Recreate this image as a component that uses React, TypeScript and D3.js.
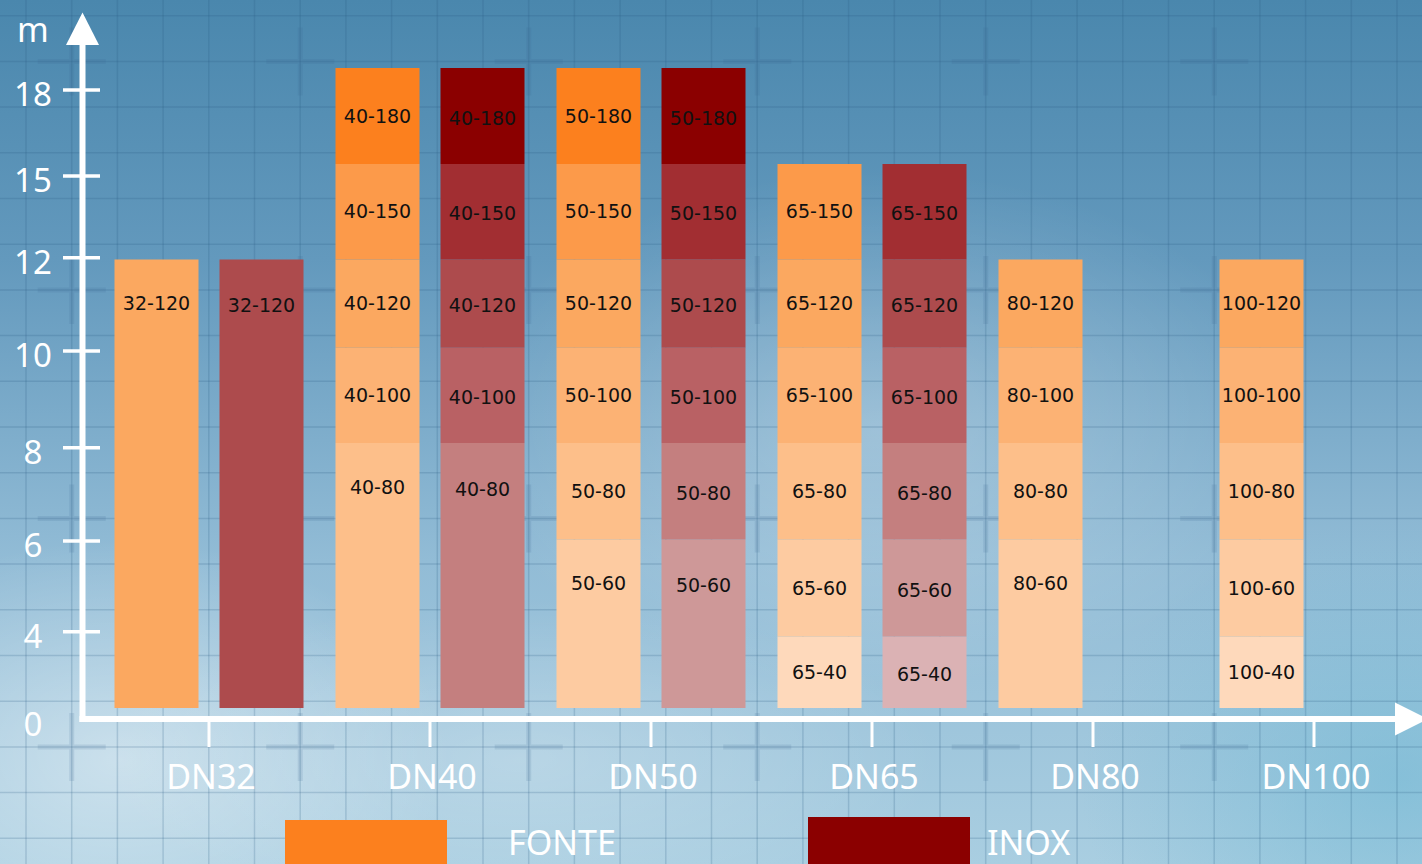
import React, { useEffect, useRef } from "react";
import * as d3 from "d3";

const width = 1422;
const height = 864;

const categories = ["DN32", "DN40", "DN50", "DN65", "DN80", "DN100"];
const dnSizes = [32, 40, 50, 65, 80, 100];
const materials = ["FONTE", "INOX"];

// pump models per size, from bottom of the stack to the top (model / 10 = head in m)
const fonteModels = [
  [120],
  [80, 100, 120, 150, 180],
  [60, 80, 100, 120, 150, 180],
  [40, 60, 80, 100, 120, 150],
  [60, 80, 100, 120],
  [40, 60, 80, 100, 120],
];
const inoxModels = [
  [120],
  [80, 100, 120, 150, 180],
  [60, 80, 100, 120, 150, 180],
  [40, 60, 80, 100, 120, 150],
  [],
  [],
];

const yTicks = [0, 4, 6, 8, 10, 12, 15, 18];
const modelKeys = [40, 60, 80, 100, 120, 150, 180];
const fonteColors = ["#FED9BB", "#FDCBA1", "#FDBF8A", "#FCB274", "#FBA860", "#FC9A4A", "#FC801E"];
const inoxColors = ["#DBB2B4", "#CE9898", "#C47F7F", "#B96164", "#AD4B4D", "#A22E32", "#8B0000"];

export default function App() {
  const chartRef = useRef<HTMLDivElement>(null);

  useEffect(() => {
    document.body.style.margin = "0";
    document.body.style.overflow = "hidden";
    drawChart();
  }, []);

  const drawChart = () => {
    const root = d3.select(chartRef.current);
    root.selectAll("*").remove();

    const svg = root
      .append("svg")
      .attr("width", width)
      .attr("height", height)
      .attr("viewBox", [0, 0, width, height])
      .style("display", "block");

    // ---- background: sky gradient + clouds + blueprint grid
    const defs = svg.append("defs");
    const sky = defs
      .append("linearGradient")
      .attr("id", "sky")
      .attr("x1", 0)
      .attr("y1", 0)
      .attr("x2", 0)
      .attr("y2", 1);
    sky.append("stop").attr("offset", 0).attr("stop-color", "#4A87AD");
    sky.append("stop").attr("offset", 0.3).attr("stop-color", "#6399BD");
    sky.append("stop").attr("offset", 0.65).attr("stop-color", "#92BCD6");
    sky.append("stop").attr("offset", 1).attr("stop-color", "#A9CEE1");

    const cloud = (id: string, color: string, op: number) => {
      const g = defs.append("radialGradient").attr("id", id);
      g.append("stop").attr("offset", 0).attr("stop-color", color).attr("stop-opacity", op);
      g.append("stop").attr("offset", 1).attr("stop-color", color).attr("stop-opacity", 0);
    };
    cloud("cloud1", "#FFFFFF", 0.45);
    cloud("cloud2", "#FFFFFF", 0.25);
    cloud("cyan", "#6FB8D4", 0.55);

    svg.append("rect").attr("width", width).attr("height", height).attr("fill", "url(#sky)");
    svg.append("ellipse").attr("cx", 120).attr("cy", 760).attr("rx", 330).attr("ry", 220).attr("fill", "url(#cloud1)");
    svg.append("ellipse").attr("cx", 880).attr("cy", 430).attr("rx", 420).attr("ry", 260).attr("fill", "url(#cloud2)");
    svg.append("ellipse").attr("cx", 520).attr("cy", 760).attr("rx", 420).attr("ry", 160).attr("fill", "url(#cloud2)");
    svg.append("ellipse").attr("cx", 1400).attr("cy", 780).attr("rx", 320).attr("ry", 260).attr("fill", "url(#cyan)");

    const cell = 45.7;
    const grid = svg.append("g").attr("stroke", "rgba(40,90,130,0.2)").attr("stroke-width", 1.5);
    grid
      .selectAll("line.v")
      .data(d3.range(26, width, cell))
      .join("line")
      .attr("x1", (d) => d)
      .attr("x2", (d) => d)
      .attr("y1", 0)
      .attr("y2", height);
    grid
      .selectAll("line.h")
      .data(d3.range(15.7, height, cell))
      .join("line")
      .attr("class", "h")
      .attr("x1", 0)
      .attr("x2", width)
      .attr("y1", (d) => d)
      .attr("y2", (d) => d);

    const crossPts = d3.cross(d3.range(26 + cell, width, cell * 5), d3.range(15.7 + cell, height, cell * 5));
    const crosses = svg.append("g").attr("stroke", "rgba(55,100,140,0.14)").attr("stroke-width", 5);
    crosses
      .selectAll("path")
      .data(crossPts)
      .join("path")
      .attr("d", ([cx, cy]) => `M${cx - 34},${cy}H${cx + 34}M${cx},${cy - 34}V${cy + 34}`);

    // ---- scales
    const x = d3.scalePoint().domain(categories).range([209, 1314]);
    const xm = d3.scaleBand().domain(materials).range([-94.5, 94.5]).paddingInner(0.2);
    // axis ticks are evenly spaced, not proportional
    const yAxis = d3.scaleLinear().domain(yTicks).range([720, 631.7, 541, 447.7, 351, 257.7, 176, 90]);
    const yBar = d3.scaleLinear().domain(yTicks).range([708, 636.5, 539.5, 443, 347.7, 259.5, 164, 68]);
    const fonteColor = d3.scaleOrdinal<number, string>().domain(modelKeys).range(fonteColors);
    const inoxColor = d3.scaleOrdinal<number, string>().domain(modelKeys).range(inoxColors);

    type Seg = { cat: string; mat: string; model: number; y0: number; y1: number; label: string };
    const segs: Seg[] = [];
    categories.forEach((cat, i) => {
      [fonteModels[i], inoxModels[i]].forEach((models, mi) => {
        let prev = 0;
        models.forEach((model) => {
          const top = model / 10;
          segs.push({ cat, mat: materials[mi], model, y0: prev, y1: top, label: `${dnSizes[i]}-${model}` });
          prev = top;
        });
      });
    });

    const bars = svg.append("g");
    bars
      .selectAll("rect")
      .data(segs)
      .join("rect")
      .attr("x", (d) => x(d.cat)! + xm(d.mat)!)
      .attr("width", xm.bandwidth())
      .attr("y", (d) => yBar(d.y1))
      .attr("height", (d) => yBar(d.y0) - yBar(d.y1))
      .attr("fill", (d) => (d.mat === "FONTE" ? fonteColor(d.model) : inoxColor(d.model)));

    // label centred in the segment, or near the top of tall ones
    const labelY = (d: Seg) => {
      const top = yBar(d.y1);
      const h = yBar(d.y0) - top;
      return (h > 110 ? top + 44 : top + h / 2) + (d.mat === "INOX" ? 2 : 0);
    };
    bars
      .selectAll("text")
      .data(segs)
      .join("text")
      .attr("x", (d) => x(d.cat)! + xm(d.mat)! + xm.bandwidth() / 2)
      .attr("y", labelY)
      .attr("dy", "0.35em")
      .attr("text-anchor", "middle")
      .attr("font-family", "DejaVu Sans")
      .attr("font-size", 19)
      .attr("fill", "#111")
      .text((d) => d.label);

    // ---- axes
    const axis = svg.append("g").attr("fill", "#fff").attr("stroke", "#fff");
    const x0 = 82.5;
    const yBase = 719;
    axis.append("line").attr("x1", x0).attr("x2", x0).attr("y1", yBase + 3).attr("y2", 44).attr("stroke-width", 6);
    axis
      .append("path")
      .attr("stroke", "none")
      .attr("d", `M${x0},12.5L${x0 + 16.5},45L${x0 - 16.5},45Z`);
    axis.append("line").attr("x1", x0 - 3).attr("x2", 1396).attr("y1", yBase).attr("y2", yBase).attr("stroke-width", 6);
    axis
      .append("path")
      .attr("stroke", "none")
      .attr("d", `M1395,${yBase - 16.5}L1428,${yBase}L1395,${yBase + 16.5}Z`);

    axis
      .selectAll("line.ytick")
      .data(yTicks.filter((t) => t > 0))
      .join("line")
      .attr("class", "ytick")
      .attr("x1", 63)
      .attr("x2", 100)
      .attr("y1", (d) => yAxis(d))
      .attr("y2", (d) => yAxis(d))
      .attr("stroke-width", 3.5);

    axis
      .selectAll("text.ylab")
      .data(yTicks)
      .join("text")
      .attr("class", "ylab")
      .attr("stroke", "none")
      .attr("x", 33)
      .attr("y", (d) => yAxis(d) + 4)
      .attr("dy", "0.36em")
      .attr("text-anchor", "middle")
      .attr("font-family", "Noto Sans")
      .attr("font-size", 33)
      .text((d) => d);

    axis
      .append("text")
      .attr("stroke", "none")
      .attr("x", 17)
      .attr("y", 42)
      .attr("font-family", "Noto Sans")
      .attr("font-size", 34)
      .text("m");

    axis
      .selectAll("line.xtick")
      .data(categories)
      .join("line")
      .attr("class", "xtick")
      .attr("x1", (d) => x(d)!)
      .attr("x2", (d) => x(d)!)
      .attr("y1", yBase + 3)
      .attr("y2", 747)
      .attr("stroke-width", 3);

    axis
      .selectAll("text.xlab")
      .data(categories)
      .join("text")
      .attr("class", "xlab")
      .attr("stroke", "none")
      .attr("x", (d) => x(d)! + 2)
      .attr("y", 789)
      .attr("text-anchor", "middle")
      .attr("font-family", "Noto Sans")
      .attr("font-size", 34)
      .text((d) => d);

    // ---- legend
    const legendX = d3.scalePoint().domain(materials).range([285, 808]);
    const legendColor = d3.scaleOrdinal<string, string>().domain(materials).range([fonteColors[6], inoxColors[6]]);
    const legend = svg
      .append("g")
      .selectAll("g")
      .data(materials)
      .join("g")
      .attr("transform", (d, i) => `translate(${legendX(d)},${820 - i * 3})`);
    legend.append("rect").attr("width", 162).attr("height", 60).attr("fill", (d) => legendColor(d));
    legend
      .append("text")
      .attr("x", (d, i) => (i === 0 ? 223 : 179))
      .attr("y", (d, i) => (i === 0 ? 35 : 38))
      .attr("fill", "#fff")
      .attr("font-family", "Noto Sans")
      .attr("font-size", 34)
      .text((d) => d);
  };

  return <div ref={chartRef}></div>;
}
